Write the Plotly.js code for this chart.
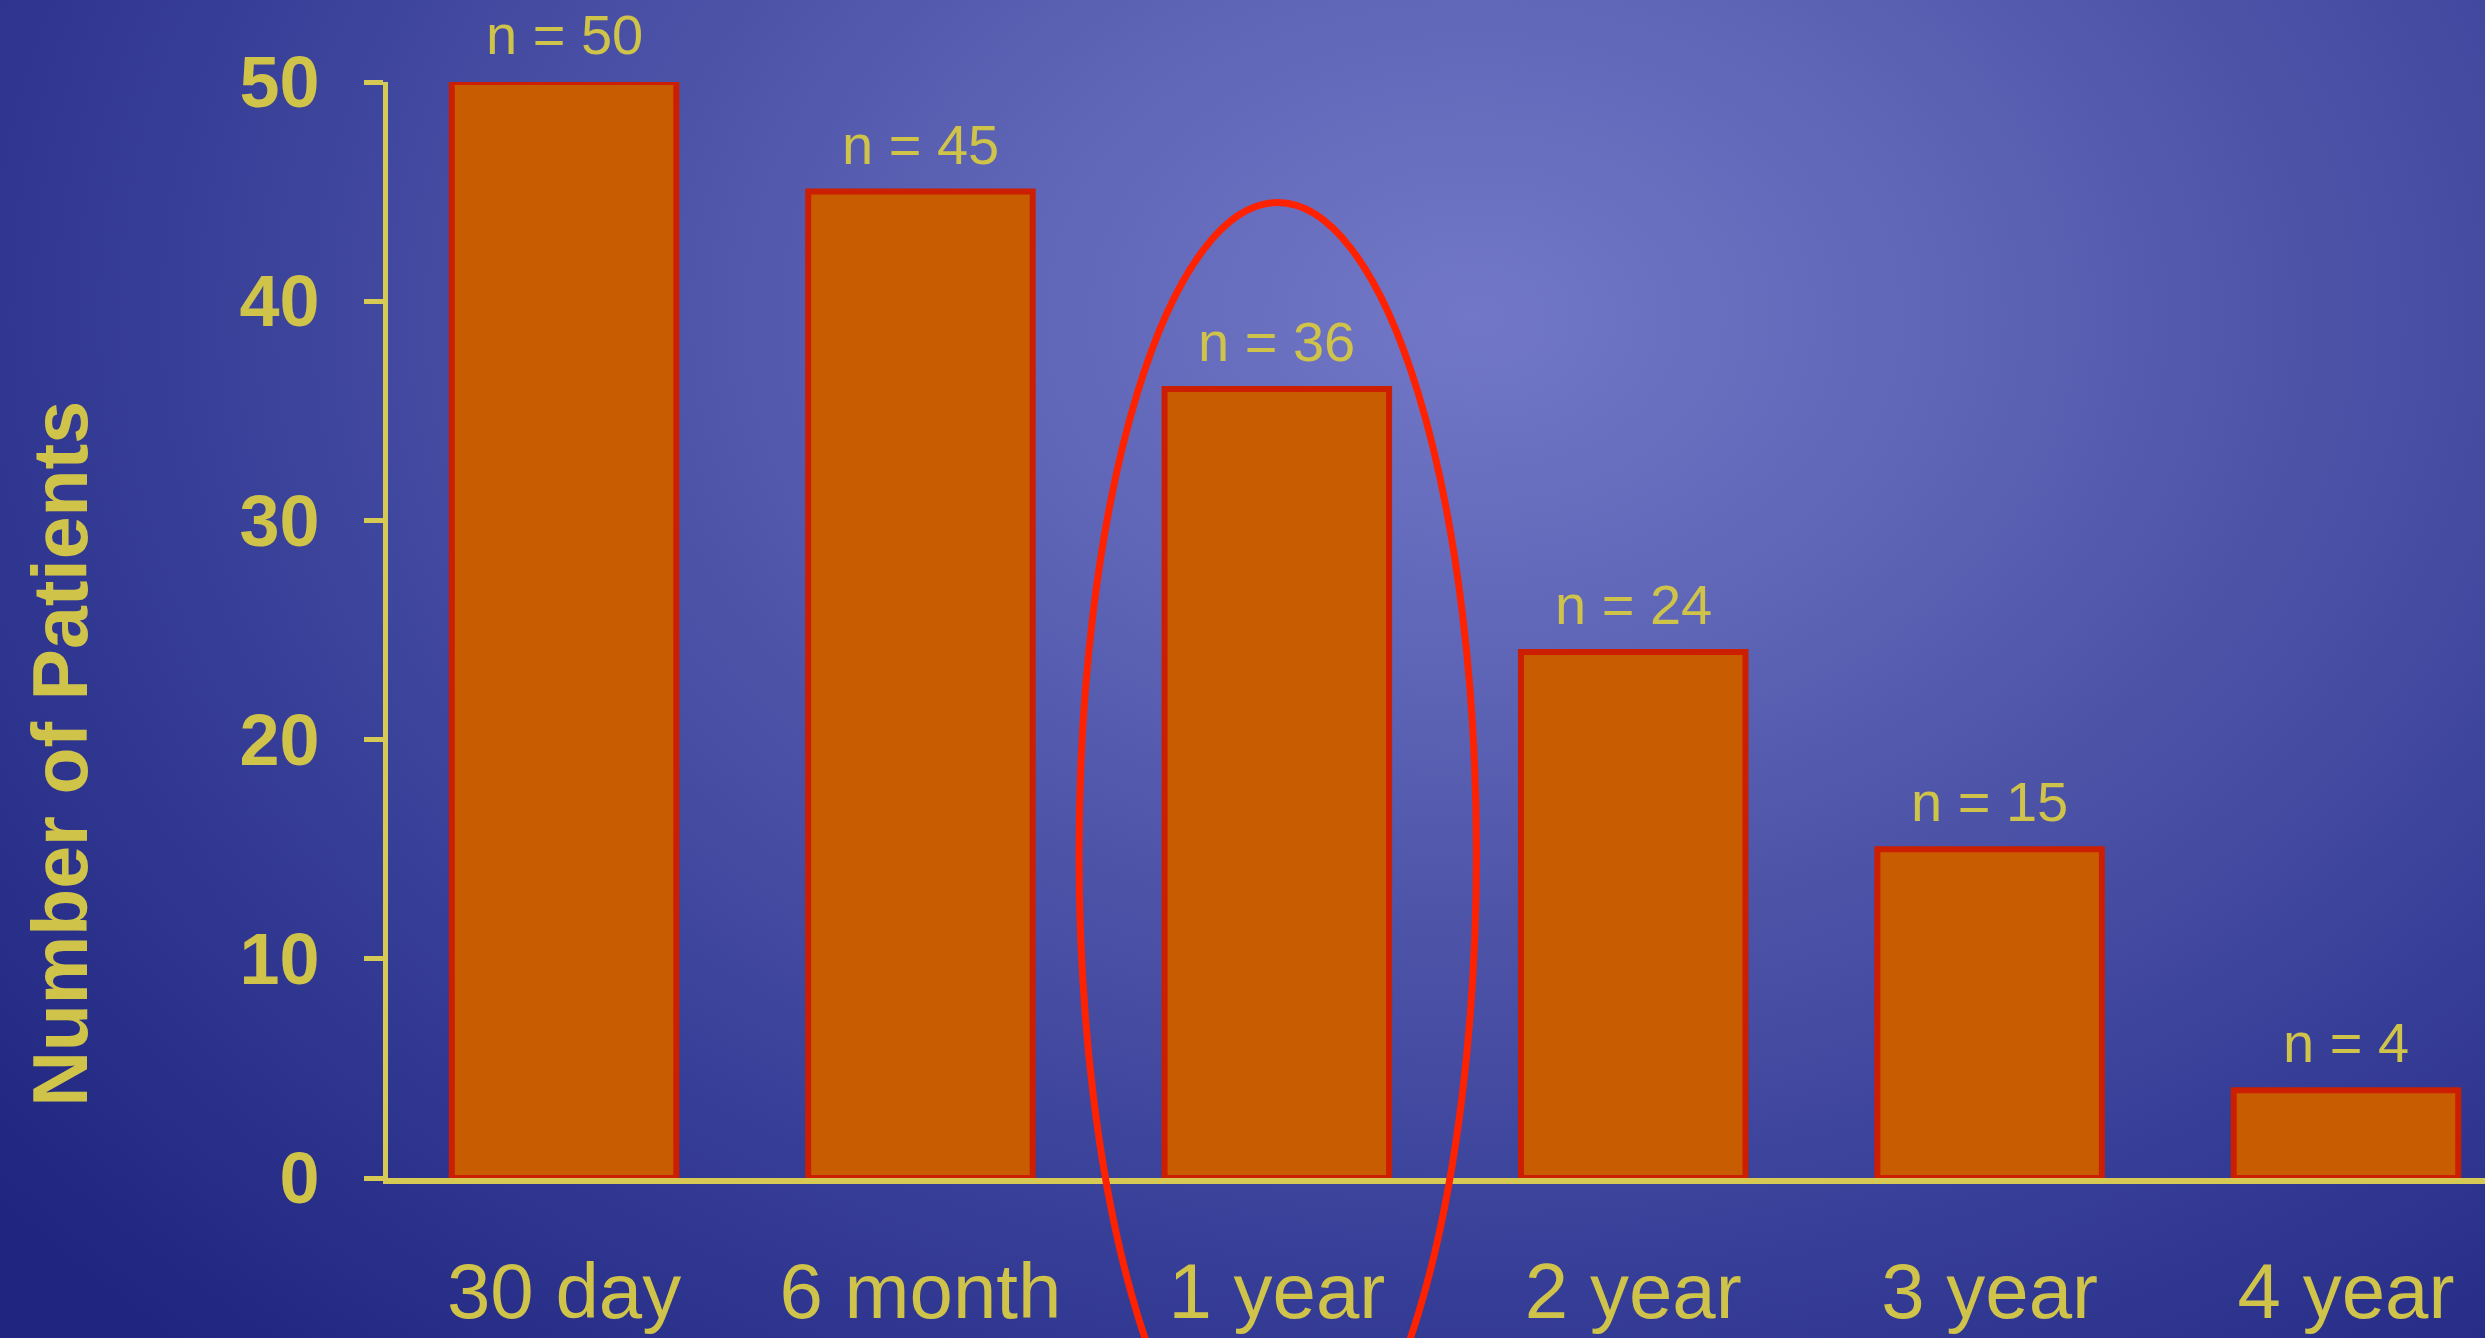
<!DOCTYPE html>
<html>
<head>
<meta charset="utf-8">
<script src="https://cdn.plot.ly/plotly-3.0.1.min.js"></script>
<style>
  html, body { margin: 0; padding: 0; }
  body {
    width: 2485px; height: 1338px; overflow: hidden;
    background: radial-gradient(ellipse 1900px 1400px at 1474px 317px,
      #7277c7 0%, #6369ba 20%, #4c53a7 45%, #363d96 70%, #20267f 100%);
  }
  #chart { width: 2485px; height: 1338px; }
</style>
</head>
<body>
<div id="chart"></div>
<script>
// Follow-up intervals and the number of patients seen at each
const categories = ['30 day', '6 month', '1 year', '2 year', '3 year', '4 year'];
const patients = [50, 45, 36, 24, 15, 4];
const yTicks = [0, 10, 20, 30, 40, 50];
const highlighted = '1 year';

const yellow = '#cfc34a';
const axisYellow = '#d6ca55';
const fontFamily = 'Liberation Sans, Arial, sans-serif';

const xRange = [-0.494, 5.39];
const yRange = [0, 50];

// convert data units to axis-domain fractions (domain refs are not clipped)
const toXDomain = v => (v - xRange[0]) / (xRange[1] - xRange[0]);
const toYDomain = v => (v - yRange[0]) / (yRange[1] - yRange[0]);

const hi = categories.indexOf(highlighted);

const labels = categories.map((c, i) => ({
  x: c, y: patients[i], xref: 'x', yref: 'y',
  text: 'n = ' + patients[i],
  showarrow: false, yanchor: 'bottom', yshift: 14,
  font: { family: fontFamily, size: 56, color: yellow }
}));

labels.push({
  text: 'Number of Patients',
  xref: 'paper', yref: 'paper',
  x: -328 / 2097, y: 0.387,
  xanchor: 'center', yanchor: 'middle',
  textangle: -90, showarrow: false,
  font: { family: fontFamily, size: 77, weight: 'bold', color: yellow }
});

const trace = {
  type: 'bar',
  x: categories,
  y: patients,
  width: 0.63,
  marker: { color: '#c85c00', line: { color: '#cc1e00', width: 6 } },
  hoverinfo: 'skip'
};

const layout = {
  width: 2485, height: 1338,
  margin: { l: 388, r: 0, t: 82, b: 160 },
  paper_bgcolor: 'rgba(0,0,0,0)',
  plot_bgcolor: 'rgba(0,0,0,0)',
  showlegend: false,
  xaxis: {
    type: 'category', range: xRange,
    showline: true, linecolor: axisYellow, linewidth: 6,
    showgrid: false, zeroline: false, ticks: '',
    ticklabelstandoff: 40,
    tickfont: { family: fontFamily, size: 78, color: yellow }
  },
  yaxis: {
    range: yRange, tickvals: yTicks,
    showline: true, linecolor: axisYellow, linewidth: 5,
    showgrid: false, zeroline: false,
    ticks: 'outside', ticklen: 19, tickwidth: 5, tickcolor: axisYellow,
    ticklabelstandoff: 30,
    tickfont: { family: fontFamily, size: 72, weight: 'bold', color: yellow }
  },
  annotations: labels,
  shapes: [{
    type: 'circle',
    xref: 'x domain', yref: 'y domain',
    x0: toXDomain(hi - 0.555), x1: toXDomain(hi + 0.56),
    y0: toYDomain(-14.9), y1: toYDomain(44.5),
    line: { color: '#ff2200', width: 7 },
    fillcolor: 'rgba(0,0,0,0)'
  }]
};

Plotly.newPlot('chart', [trace], layout, { staticPlot: true, displayModeBar: false });
</script>
</body>
</html>
